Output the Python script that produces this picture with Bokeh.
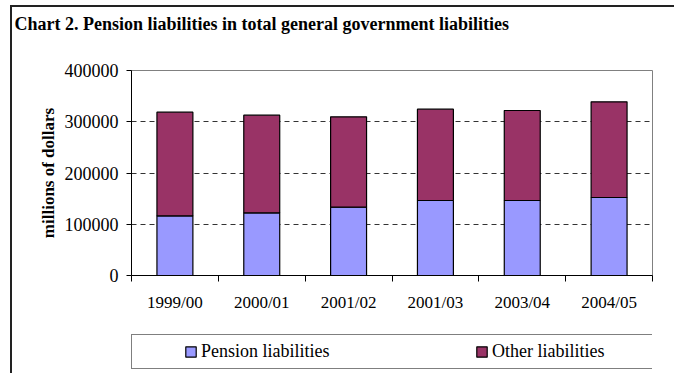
from bokeh.plotting import figure
from bokeh.layouts import column
from bokeh.models import (Range1d, FixedTicker, BasicTickFormatter, Legend, LegendItem,
                          ColumnDataSource, Title)
from bokeh.embed import file_html
from bokeh.resources import INLINE

# ---- data ----
periods = ["1999/00", "2000/01", "2001/02", "2001/03", "2003/04", "2004/05"]
pension_liabilities = [116500, 122300, 133300, 146300, 146300, 152200]
other_liabilities = [202100, 190500, 176400, 178200, 175700, 186700]
y_ticks = [0, 100000, 200000, 300000, 400000]
series_names = ["Pension liabilities", "Other liabilities"]
series_colors = ["#9999FF", "#993366"]
title_text = "Chart 2. Pension liabilities in total general government liabilities"
y_title = "millions of dollars"

FONT = "Liberation Serif"

x_pos = [i + 0.5 for i in range(len(periods))]
source = ColumnDataSource(dict(x=x_pos, pension=pension_liabilities, other=other_liabilities))

frame_css = ("linear-gradient(#222222, #222222) 10px 5px / 2px 100% no-repeat, "
             "linear-gradient(#222222, #222222) 10px 5px / 100% 2px no-repeat, white")

# ---------------- main chart ----------------
p = figure(width=674, height=330, output_backend="svg", toolbar_location=None,
           x_range=Range1d(0, len(periods)), y_range=Range1d(y_ticks[0], y_ticks[-1]),
           min_border_left=131, min_border_right=22, min_border_top=70, min_border_bottom=55)

p.background_fill_color = "white"
p.border_fill_alpha = 0
p.outline_line_color = "#808080"
p.outline_line_width = 1
p.title.text = ""

# spacer between the frame and the chart title, then the title itself
p.add_layout(Title(text=" ", text_font_size="10px", standoff=24), "above")
p.add_layout(Title(text=title_text, align="left", offset=-117, standoff=0,
                   text_font=FONT, text_font_style="bold", text_font_size="18px",
                   text_color="black"), "above")

renderers = p.vbar_stack(["pension", "other"], x="x", width=0.414, source=source,
                         fill_color=series_colors, line_color="black", line_width=1.2)

# x axis: labels at category centres, ticks at category boundaries
xa = p.xaxis[0]
xa.ticker = FixedTicker(ticks=x_pos, minor_ticks=list(range(len(periods) + 1)))
xa.major_label_overrides = {x: lab for x, lab in zip(x_pos, periods)}
xa.major_tick_line_color = None
xa.major_tick_out = 0
xa.major_tick_in = 0
xa.minor_tick_line_color = "black"
xa.minor_tick_out = 6
xa.minor_tick_in = 0
xa.axis_line_color = "black"
xa.major_label_standoff = 11
xa.major_label_text_font = FONT
xa.major_label_text_font_size = "17px"
xa.major_label_text_color = "black"

ya = p.yaxis[0]
ya.ticker = FixedTicker(ticks=y_ticks, minor_ticks=[])
ya.formatter = BasicTickFormatter(use_scientific=False)
ya.major_tick_out = 5
ya.major_tick_in = 0
ya.major_tick_line_color = "black"
ya.axis_line_color = "black"
ya.major_label_standoff = 8
ya.major_label_text_font = FONT
ya.major_label_text_font_size = "18px"
ya.major_label_text_color = "black"
ya.axis_label = y_title
ya.axis_label_text_font = FONT
ya.axis_label_text_font_style = "bold"
ya.axis_label_text_font_size = "17px"
ya.axis_label_text_color = "black"
ya.axis_label_standoff = 4

p.xgrid.visible = False
p.ygrid.grid_line_color = "#333333"
p.ygrid.grid_line_dash = "5 4"
p.ygrid.grid_line_width = 1

# ---------------- legend strip ----------------
lg = figure(width=674, height=43, output_backend="svg", toolbar_location=None,
            x_range=Range1d(0, 1), y_range=Range1d(0, 1),
            x_axis_location=None, y_axis_location=None,
            min_border_left=131, min_border_right=22, min_border_top=0, min_border_bottom=0)
lg.grid.visible = False
lg.outline_line_color = None
lg.background_fill_alpha = 0
lg.border_fill_alpha = 0
lg.title.text = ""

# legend keys (hidden renderers, only their legend swatches are drawn)
keys = []
for c, vals in zip(series_colors, [pension_liabilities, other_liabilities]):
    r = lg.vbar(x=[0.5], top=[vals[0]], width=0.4, fill_color=c, line_color="black",
                line_width=1.2)
    r.visible = False
    keys.append(r)

legend = Legend(items=[LegendItem(label=n, renderers=[r]) for n, r in zip(series_names, keys)],
                orientation="horizontal", location=(0, 4),
                title=" ", title_location="left", title_standoff=45,
                title_text_font_size="1px",
                padding=6, spacing=120, label_width=154, label_height=20,
                glyph_width=13, glyph_height=13, label_standoff=4,
                label_text_font=FONT, label_text_font_size="18px", label_text_color="black",
                border_line_color="black", border_line_width=1,
                background_fill_color="white", background_fill_alpha=1,
                inactive_fill_alpha=0, margin=0)
lg.add_layout(legend)

layout = column(p, lg, spacing=0, styles={"background": frame_css})

open("out.html", "w").write(file_html(layout, INLINE))
